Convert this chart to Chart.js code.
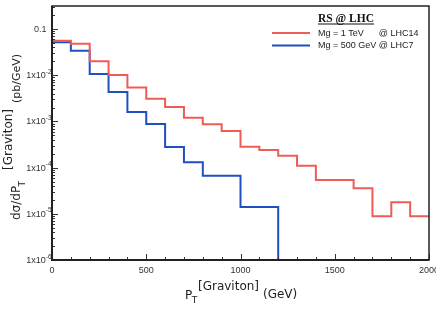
<!DOCTYPE html>
<html>
<head>
<meta charset="utf-8">
<script src="https://cdn.jsdelivr.net/npm/chart.js@4.4.1/dist/chart.umd.min.js"></script>
<style>
  html, body { margin: 0; padding: 0; background: #fff; }
</style>
</head>
<body>
<canvas id="chart" width="436" height="312"></canvas>
<script>
// histogram bins, 100 GeV wide
const binEdges = [0, 100, 200, 300, 400, 500, 600, 700, 800, 900, 1000,
                  1100, 1200, 1300, 1400, 1500, 1600, 1700, 1800, 1900, 2000];
// Mg = 1 TeV @ LHC14
const redValues = [0.0558, 0.048, 0.020, 0.0101, 0.0054, 0.0031, 0.00205, 0.0012,
                   0.000865, 0.00062, 0.000283, 0.00024, 0.000181, 0.00011,
                   0.000054, 0.000054, 0.0000357, 0.0000089, 0.0000177, 0.0000089];
// Mg = 500 GeV @ LHC7
const blueValues = [0.0515, 0.0339, 0.0106, 0.00433, 0.0016, 0.00088, 0.00028,
                    0.00013, 0.0000668, 0.0000668, 0.000014, 0.000014];
const blueTail = 1e-6;   // drops to the floor after the last bin

const seriesLabels = ['Mg = 1 TeV    @ LHC14', 'Mg = 500 GeV @ LHC7'];
const seriesColors = ['#ef5b55', '#1f50bf'];
const legendTitle = 'RS @ LHC';

const xTickValues = [0, 500, 1000, 1500, 2000];
const yTickValues = [1e-6, 1e-5, 1e-4, 1e-3, 1e-2, 0.1];
const yTickLabels = ['1x10^-6', '1x10^-5', '1x10^-4', '1x10^-3', '1x10^-2', '0.1'];

const Y_MIN = 1e-6, Y_MAX = 0.315;
const sans = 'DejaVu Sans';
const arial = 'Liberation Sans';

// points at the low edges + closing point at the upper edge
function histPoints(values, tail) {
    const pts = values.map((v, i) => ({ x: binEdges[i], y: v }));
    pts.push({ x: binEdges[values.length], y: tail });
    return pts;
}

function drawText(ctx, text, size, x, y) {
    ctx.font = size + 'px "' + sans + '"';
    ctx.fillText(text, x, y);
    return ctx.measureText(text).width;
}

const decorations = {
    id: 'decorations',
    afterDraw(chart) {
        const ctx = chart.ctx;
        const a = chart.chartArea;
        const xs = chart.scales.x, ys = chart.scales.y;
        ctx.save();

        // ticks pointing inwards
        ctx.strokeStyle = '#333';
        ctx.lineWidth = 1;
        ctx.beginPath();
        for (let v = 0; v <= 2000; v += 100) {
            const px = Math.round(xs.getPixelForValue(v)) + 0.5;
            const len = v % 500 === 0 ? 6 : 3;
            ctx.moveTo(px, a.bottom);
            ctx.lineTo(px, a.bottom - len);
        }
        for (let d = 1e-6; d < 1; d *= 10) {
            for (let m = 1; m <= 9; m++) {
                const v = m * d;
                if (v > Y_MAX * 1.0001) break;
                const py = Math.round(ys.getPixelForValue(v)) + 0.5;
                const len = m === 1 ? 6 : 3;
                ctx.moveTo(a.left, py);
                ctx.lineTo(a.left + len, py);
            }
        }
        ctx.stroke();

        // frame
        ctx.strokeStyle = '#222';
        ctx.lineWidth = 1.5;
        ctx.strokeRect(a.left, a.top, a.right - a.left, a.bottom - a.top);
        ctx.lineWidth = 2;
        ctx.beginPath();
        ctx.moveTo(a.left, a.top);
        ctx.lineTo(a.left, a.bottom);
        ctx.lineTo(a.right, a.bottom);
        ctx.stroke();

        // y tick labels with superscripts
        ctx.fillStyle = '#333';
        yTickValues.forEach((v, i) => {
            const py = ys.getPixelForValue(v);
            const parts = yTickLabels[i].split('^');
            let right = a.left - 0.5;
            ctx.textAlign = 'right';
            if (parts.length > 1) {
                ctx.font = '6.5px "' + arial + '"';
                ctx.textBaseline = 'alphabetic';
                ctx.fillText(parts[1], right, py - 1.5);
                right -= ctx.measureText(parts[1]).width;
            } else {
                right -= 5;
            }
            ctx.font = '9px "' + arial + '"';
            ctx.textBaseline = 'middle';
            ctx.fillText(parts[0], right, py + 0.5);
        });

        // axis titles
        ctx.fillStyle = '#222';
        ctx.textAlign = 'left';
        ctx.textBaseline = 'alphabetic';
        const pW = drawText(ctx, 'P', 12, 185, 299);
        drawText(ctx, 'T', 9, 185 + pW - 0.5, 303);
        drawText(ctx, '[Graviton]', 12, 198, 290);
        drawText(ctx, '(GeV)', 12, 263, 298);

        ctx.save();
        ctx.translate(20, 220);
        ctx.rotate(-Math.PI / 2);
        const dW = drawText(ctx, 'd\u03c3/dP', 12, 0, 0);
        drawText(ctx, 'T', 9, dW - 0.5, 5);
        drawText(ctx, '[Graviton]', 12, 50, -8);
        drawText(ctx, '(pb/GeV)', 11, 117, 0);
        ctx.restore();

        // legend
        ctx.font = 'bold 11.5px "Liberation Serif"';
        ctx.textAlign = 'center';
        ctx.fillStyle = '#111';
        const tW = ctx.measureText(legendTitle).width;
        ctx.fillText(legendTitle, 346, 22);
        ctx.fillRect(346 - tW / 2, 23.5, tW, 1);

        ctx.font = '9px "' + arial + '"';
        ctx.textAlign = 'left';
        ctx.textBaseline = 'middle';
        const heads = seriesLabels.map(s => s.split('@')[0].trimEnd() + ' ');
        const col = 318 + Math.max(...heads.map(h => ctx.measureText(h).width));
        seriesLabels.forEach((s, i) => {
            const ly = 33 + i * 12.5;
            ctx.strokeStyle = seriesColors[i];
            ctx.lineWidth = 2;
            ctx.beginPath();
            ctx.moveTo(272, ly);
            ctx.lineTo(310, ly);
            ctx.stroke();
            ctx.fillStyle = '#222';
            ctx.fillText(heads[i], 318, ly + 0.5);
            ctx.fillText('@' + s.split('@')[1], col, ly + 0.5);
        });
        ctx.restore();
    }
};

new Chart(document.getElementById('chart'), {
    type: 'line',
    data: {
        datasets: [
            {
                label: seriesLabels[0],
                data: histPoints(redValues, redValues[redValues.length - 1]),
                borderColor: seriesColors[0],
                borderWidth: 2,
                stepped: 'before',
                pointRadius: 0,
                fill: false
            },
            {
                label: seriesLabels[1],
                data: histPoints(blueValues, blueTail),
                borderColor: seriesColors[1],
                borderWidth: 2,
                stepped: 'before',
                pointRadius: 0,
                fill: false
            }
        ]
    },
    options: {
        responsive: false,
        devicePixelRatio: 1,
        animation: false,
        layout: { padding: { top: 6, right: 7, left: 0, bottom: 0 } },
        plugins: {
            legend: { display: false },
            tooltip: { enabled: false }
        },
        scales: {
            x: {
                type: 'linear',
                min: 0,
                max: 2000,
                grid: { display: false, drawTicks: false },
                border: { display: false },
                ticks: {
                    font: { family: arial, size: 9 },
                    color: '#333',
                    padding: 5,
                    maxRotation: 0,
                    callback: v => String(v)
                },
                afterBuildTicks: s => { s.ticks = xTickValues.map(v => ({ value: v })); },
                afterFit: s => { s.height = 52; s.paddingLeft = 0; s.paddingRight = 0; }
            },
            y: {
                type: 'logarithmic',
                min: Y_MIN,
                max: Y_MAX,
                grid: { display: false, drawTicks: false },
                border: { display: false },
                ticks: { display: false },
                afterBuildTicks: s => { s.ticks = yTickValues.map(v => ({ value: v })); },
                afterFit: s => { s.width = 52; s.paddingTop = 0; s.paddingBottom = 0; }
            }
        }
    },
    plugins: [decorations]
});
</script>
</body>
</html>
